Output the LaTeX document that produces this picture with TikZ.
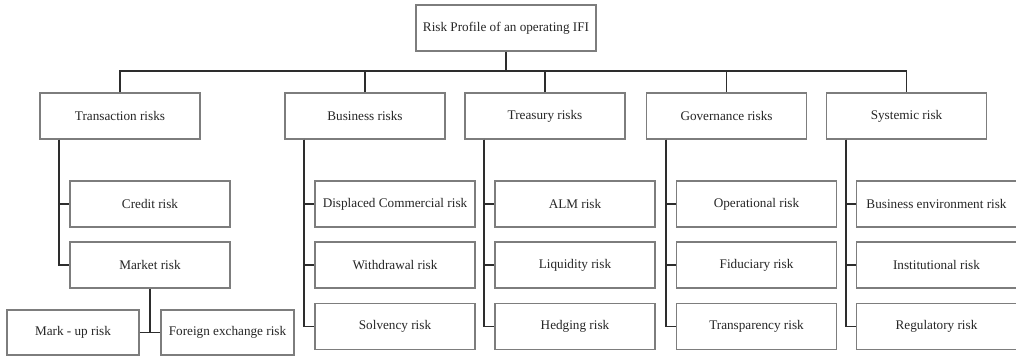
\documentclass[tikz,border=0pt]{standalone}
\usepackage{fontspec}
\setmainfont{Liberation Serif}
\definecolor{boxline}{RGB}{125,125,125}
\definecolor{connline}{RGB}{45,45,45}
\begin{document}
\begin{tikzpicture}[x=1pt,y=-1pt,
  box/.style={draw=boxline, line width=1.3pt, minimum width=160pt, minimum height=46pt, inner sep=0pt, font=\fontsize{13.2}{15}\selectfont, text=black!85},
  conn/.style={draw=connline, line width=1.8pt}]
\useasboundingbox[fill=white] (0,0) rectangle (1016,356);
% root
\node[box, minimum width=180pt] (root) at (506,28) {Risk Profile of an operating IFI};
% level 1
\node[box] (tr) at (120,116) {Transaction risks};
\node[box] (bu) at (365,116) {Business risks};
\node[box] (te) at (545,116) {Treasury risks};
\node[box] (go) at (726.5,116) {Governance risks};
\node[box] (sy) at (906.5,116) {Systemic risk};
% level 2
\node[box] (cr) at (150,204) {Credit risk};
\node[box] (ma) at (150,265) {Market risk};
\node[box] (dc) at (395,204) {Displaced Commercial risk};
\node[box] (wd) at (395,265) {Withdrawal risk};
\node[box] (so) at (395,326.5) {Solvency risk};
\node[box] (al) at (575,204) {ALM risk};
\node[box] (li) at (575,265) {Liquidity risk};
\node[box] (he) at (575,326.5) {Hedging risk};
\node[box] (op) at (756.5,204) {Operational risk};
\node[box] (fi) at (756.5,265) {Fiduciary risk};
\node[box] (tp) at (756.5,326.5) {Transparency risk};
\node[box] (be) at (936.5,204) {Business environment risk};
\node[box] (in) at (936.5,265) {Institutional risk};
\node[box] (re) at (936.5,326.5) {Regulatory risk};
% level 3
\node[box, minimum width=132pt, minimum height=45pt] (mu) at (73,332.5) {Mark - up risk};
\node[box, minimum width=133pt, minimum height=45pt] (fx) at (227.5,332.5) {Foreign exchange risk};
% bus
\coordinate (bus) at (0,71);
\draw[conn] (root.south) -- (root.south |- bus);
\draw[conn] (tr.north) -- (tr.north |- bus) -- (sy.north |- bus) -- (sy.north);
\draw[conn] (bu.north) -- (bu.north |- bus);
\draw[conn] (te.north) -- (te.north |- bus);
\draw[conn] (go.north) -- (go.north |- bus);
% spines
\draw[conn] ([xshift=20pt]tr.south west) |- (cr.west);
\draw[conn] ([xshift=20pt]tr.south west) |- (ma.west);
\foreach \p/\a/\b/\c in {bu/dc/wd/so, te/al/li/he, go/op/fi/tp, sy/be/in/re}{
  \draw[conn] ([xshift=20pt]\p.south west) |- (\a.west);
  \draw[conn] ([xshift=20pt]\p.south west) |- (\b.west);
  \draw[conn] ([xshift=20pt]\p.south west) |- (\c.west);
}
% market children
\draw[conn] (ma.south) -- (ma.south |- mu.east);
\draw[conn] (mu.east) -- (fx.west);
\end{tikzpicture}
\end{document}
